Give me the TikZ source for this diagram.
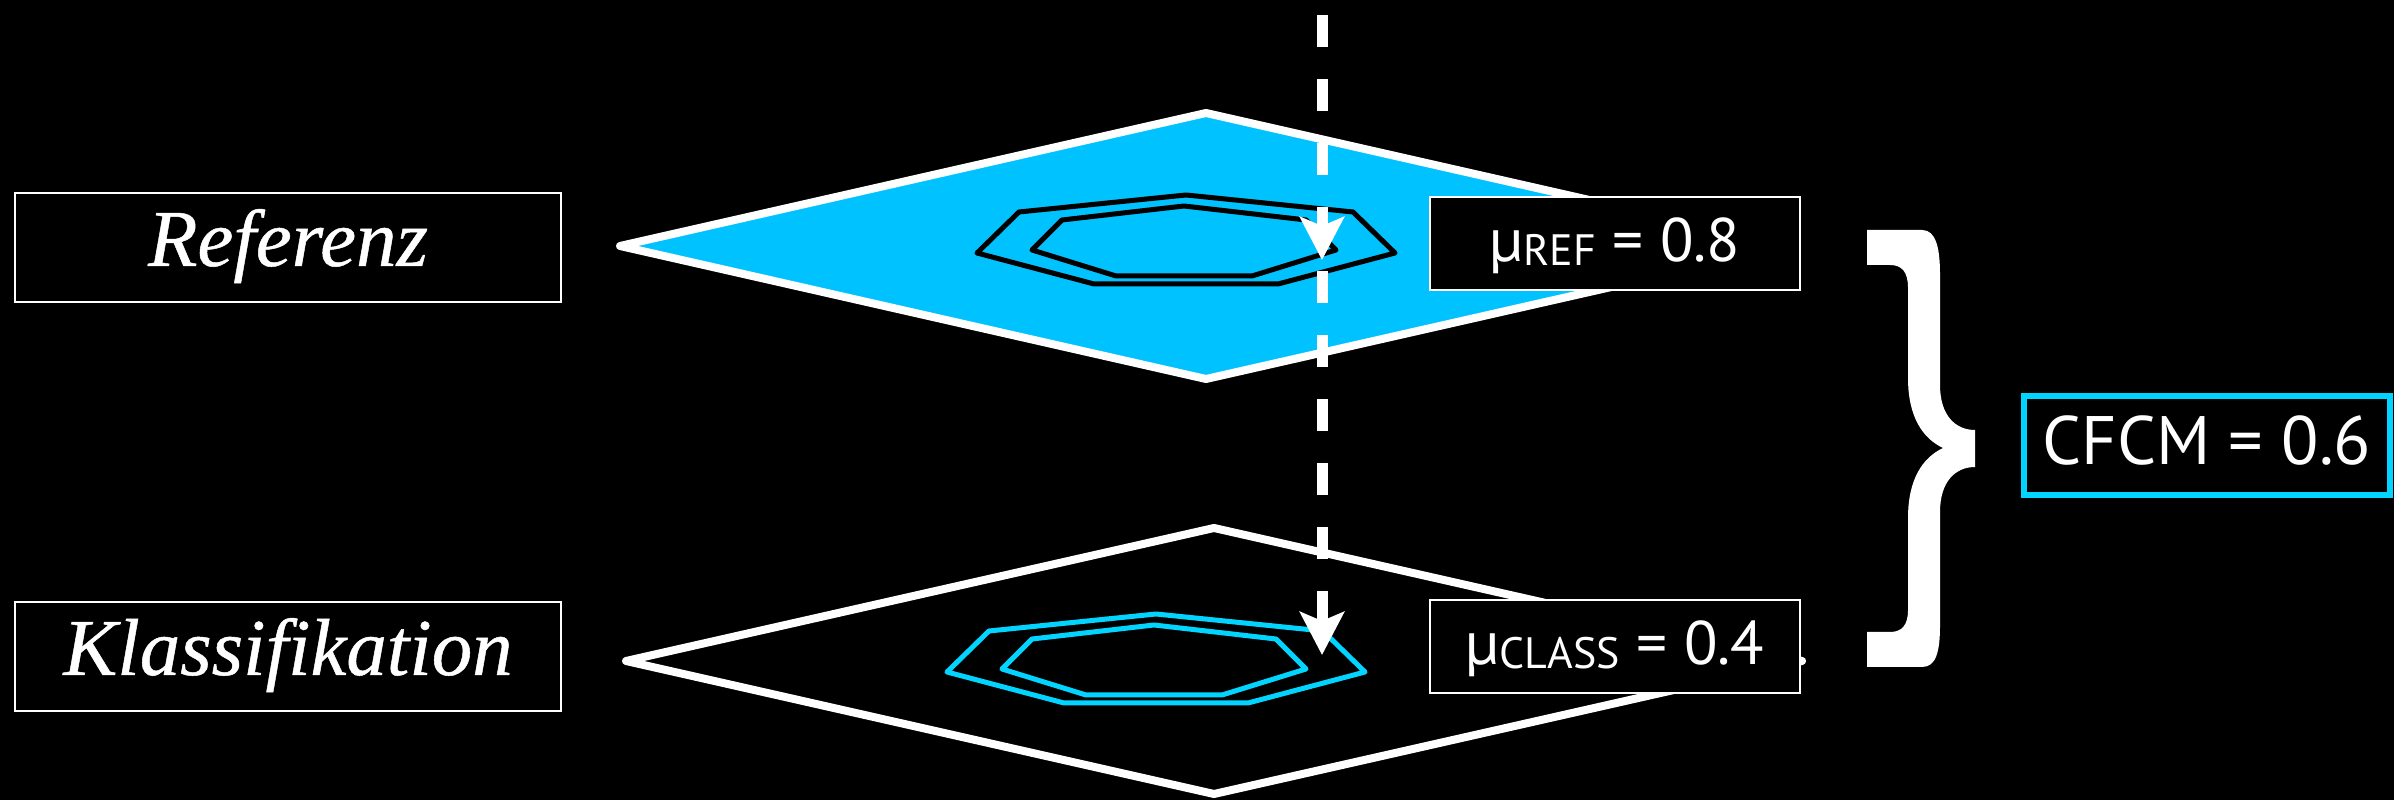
\documentclass[tikz,border=0pt]{standalone}
\usepackage{fontspec}
\setmainfont{Liberation Serif}[ItalicFeatures={FakeBold=0.6}]
\setsansfont{PT Sans}
\usepackage{tikz}
\usetikzlibrary{
    arrows.meta,
    positioning
}
\definecolor{skyfill}{HTML}{00C2FF}
\definecolor{skyline}{HTML}{00D4FF}
\newcommand{\scoresub}[1]{\raisebox{-0.4mm}{\fontsize{12.5}{14}\selectfont #1}}
\tikzset{
    % Plane (diamond) style
    plane/.style={
        draw=white,
        line width=0.8mm,
        line join=round,
        fill=#1
    },
    % Contour polygon style
    contour/.style={
        draw=#1,
        line width=0.5mm,
        line join=round
    },
    % Level label style
    level label/.style={
        rectangle,
        draw=white,
        line width=0.2mm,
        fill=black,
        text=white,
        minimum width=54.6mm,
        minimum height=10.9mm,
        inner sep=0pt,
        text height=3.6mm,
        text depth=0mm,
        font=\fontsize{23}{27}\selectfont\itshape
    },
    % Score box style
    score box/.style={
        rectangle,
        draw=white,
        line width=0.2mm,
        fill=black,
        text=white,
        minimum width=37mm,
        minimum height=9.3mm,
        inner sep=0pt,
        text height=3.6mm,
        text depth=0mm,
        font=\fontsize{17.5}{21}\selectfont\sffamily
    },
    % Result box style
    result box/.style={
        rectangle,
        draw=skyline,
        line width=0.6mm,
        fill=black,
        text=white,
        minimum width=36.6mm,
        minimum height=9.9mm,
        inner sep=0pt,
        text height=3.7mm,
        text depth=0mm,
        font=\fontsize{19.5}{23}\selectfont\sffamily
    },
    % Probe ray style
    ray/.style={
        draw=white,
        line width=1.1mm,
        dash pattern=on 3.2mm off 3.2mm,
        -{Stealth[length=4.3mm, width=4.4mm, inset=0.9mm]}
    }
}

\begin{document}
\begin{tikzpicture}[x=0.1mm, y=-0.1mm]

    % Background
    \path[fill=black, use as bounding box] (0,0) rectangle (2394,800);

    % Planes
    \draw[plane=black] (626,661) -- (1214,528) -- (1802,661) -- (1214,794) -- cycle;
    \draw[plane=skyfill] (620,246) -- (1206,113) -- (1792,246) -- (1206,379) -- cycle;

    % Contours
    \draw[contour=black, shift={(1186,253)}]
        (-209,0) -- (-167,-41) -- (0,-58) -- (167,-41) -- (209,0) -- (92,31) -- (-92,31) -- cycle
        (-154,-3) -- (-124,-33) -- (-2,-47) -- (120,-33) -- (150,-3) -- (66,23) -- (-70,23) -- cycle;
    \draw[contour=skyline, shift={(1156,672)}]
        (-209,0) -- (-167,-41) -- (0,-58) -- (167,-41) -- (209,0) -- (92,31) -- (-92,31) -- cycle
        (-154,-3) -- (-124,-33) -- (-2,-47) -- (120,-33) -- (150,-3) -- (66,23) -- (-70,23) -- cycle;

    % Probe ray
    \coordinate (probe) at (1322,15);
    \coordinate (hitref) at (1322,260);
    \coordinate (hitclass) at (1322,655);
    \draw[ray] (probe) -- (hitref);
    \draw[ray, dash phase=5.3mm] (hitref) -- (hitclass);

    % Level labels
    \node[level label] (ref) at (288,248) {Referenz};
    \node[level label] (class) at (288,657) {Klassifikation};

    % Scores
    \node[score box] (muref) at (1615,244) {µ\scoresub{REF} = 0.8};
    \node[score box] (muclass) at (1615,647) {µ\scoresub{CLASS} = 0.4};

    % Brace
    \fill[white, shift={(1850,200)}]
        (17,30) -- (72,30) .. controls (86,30) and (90,48) .. (90,75)
        -- (90,185) .. controls (90,215) and (105,230) .. (125,230)
        -- (125,267) .. controls (105,267) and (90,282) .. (90,312)
        -- (90,425) .. controls (90,452) and (86,467) .. (72,467)
        -- (17,467) -- (17,432) -- (40,432) .. controls (52,432) and (58,425) .. (58,410)
        -- (58,318) .. controls (58,280) and (72,258) .. (93,248)
        .. controls (72,238) and (58,216) .. (58,178)
        -- (58,88) .. controls (58,72) and (52,65) .. (40,65)
        -- (17,65) -- cycle;

    % Result
    \node[result box] (cfcm) at (2207,446) {CFCM = 0.6};

\end{tikzpicture}
\end{document}
